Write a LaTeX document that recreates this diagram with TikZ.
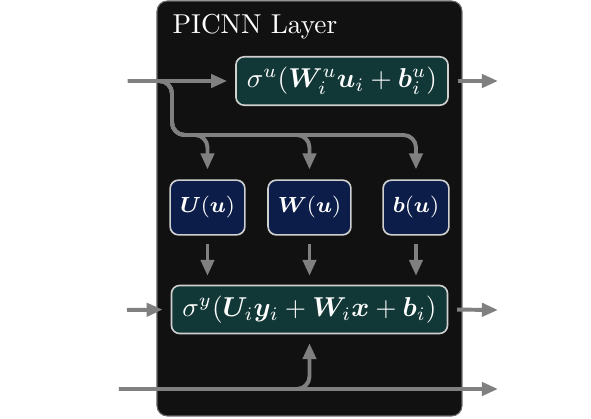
\documentclass[tikz,border=0pt]{standalone}
\usepackage{amsmath,bm}
\usetikzlibrary{arrows.meta,calc}
\definecolor{panelbg}{HTML}{111111}
\definecolor{panelborder}{HTML}{6A6A6A}
\definecolor{tealfill}{HTML}{113736}
\definecolor{navyfill}{HTML}{0B1D48}
\definecolor{boxborder}{HTML}{D0D0D0}
\definecolor{linegray}{HTML}{808080}
\begin{document}
\begin{tikzpicture}[x=0.366pt,y=-0.366pt,
  opbox/.style={draw=boxborder, line width=0.6pt, fill=tealfill, text=white,
    rounded corners=3pt, inner xsep=4pt, inner ysep=3.8pt},
  parbox/.style={draw=boxborder, line width=0.6pt, fill=navyfill, text=white,
    rounded corners=3pt, inner xsep=3.6pt, minimum height=20pt, font=\footnotesize},
  flow/.style={draw=linegray, line width=1.45pt,
    -{Triangle[length=5.9pt,width=4.8pt]}},
  roundbend/.style={rounded corners=4.6pt}]
\useasboundingbox (0,0) rectangle (591,419);
\path[fill=panelbg, draw=panelborder, line width=0.4pt, rounded corners=3.8pt]
  (157,1) rectangle (462,416);
\node[anchor=base west, text=white, inner sep=0pt] (title) at (172,33) {PICNN Layer};
\node[opbox] (su) at (342,81) {$\sigma^u(\bm{W}_i^u\bm{u}_i+\bm{b}_i^u)$};
\node[parbox] (U) at (207.5,207.5) {$\bm{U}(\bm{u})$};
\node[parbox] (W) at (309.5,207.5) {$\bm{W}(\bm{u})$};
\node[parbox] (B) at (416,207.5) {$\bm{b}(\bm{u})$};
\node[opbox] (sy) at (309.5,309.5) {$\sigma^y(\bm{U}_i\bm{y}_i+\bm{W}_i\bm{x}+\bm{b}_i)$};
\coordinate (inu) at (128,81);
\coordinate (outu) at (498,81);
\coordinate (elbow) at (172,135);
\coordinate (iny) at (127,310);
\coordinate (outy) at (498,310);
\coordinate (inx) at (119,389);
\coordinate (outx) at (498,389);
% u path
\draw[flow, shorten >=2.9pt] (inu) -- (su.west);
\draw[flow, shorten <=3.2pt] (su.east) -- (outu);
\draw[flow, roundbend, shorten >=3.6pt] (inu) -| (elbow) -| (B.north);
\draw[flow, roundbend, shorten >=3.6pt] (inu) -| (elbow) -| (W.north);
\draw[flow, roundbend, shorten >=3.6pt] (inu) -| (elbow) -| (U.north);
% params to sy
\draw[flow, shorten <=3pt, shorten >=3.2pt] (U.south) -- (U.south |- sy.north);
\draw[flow, shorten <=3pt, shorten >=3.2pt] (W.south) -- (W.south |- sy.north);
\draw[flow, shorten <=3pt, shorten >=3.2pt] (B.south) -- (B.south |- sy.north);
% y path
\draw[flow, shorten >=2.9pt] (iny) -- (sy.west);
\draw[flow, shorten <=3.2pt] (sy.east) -- (outy);
% x path
\draw[flow] (inx) -- (outx);
\draw[flow, roundbend, shorten >=3.2pt] (inx) -| (sy.south);
\end{tikzpicture}
\end{document}
